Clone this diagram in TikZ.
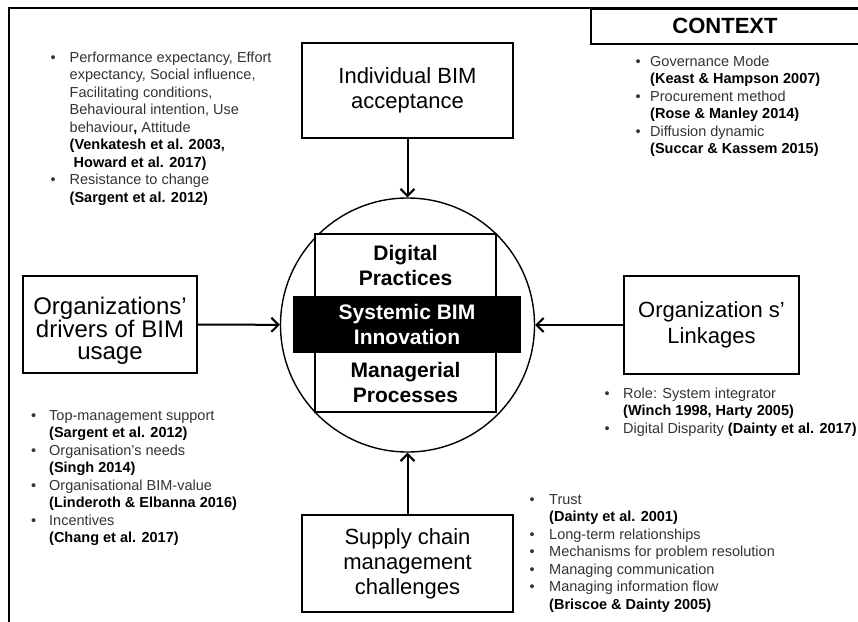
\documentclass[tikz,border=0pt]{standalone}
\usepackage{fontspec}
\setmainfont{Liberation Sans}
\usetikzlibrary{arrows.meta}
\newlength{\bw}
\newcommand{\itm}[1]{\makebox[\bw][l]{•}#1}
\newcommand{\cnt}[1]{\hspace*{\bw}#1}
\newcommand{\rf}[1]{{\bfseries\color{black}#1}}
\tikzset{
  bbox/.style={draw, line width=2pt, inner sep=0pt, align=center, fill=white},
  arr/.style={line width=2pt, -{Straight Barb[length=7pt,width=14pt]}},
  listtxt/.style={anchor=north west, inner sep=0pt, text=black!80,
    font=\fontsize{14.5}{17.5}\selectfont},
}
\begin{document}
\begin{tikzpicture}[x=1pt,y=-1pt]
\useasboundingbox (0,0) rectangle (858,621);
% outer frame
\draw[line width=2pt] (9,630) -- (9,8) -- (870,8);
% context header
\node[draw, line width=2pt, minimum width=280pt, minimum height=35pt, anchor=north west, inner sep=0pt] (ctxbox) at (590,8) {};
\node[font=\fontsize{22}{25}\selectfont\bfseries] (ctx) at (725,26) {CONTEXT};

% central circle
\node[circle, draw, line width=1.4pt, minimum size=254pt, inner sep=0pt] (core) at (407.5,325) {};
\node[draw, fill=white, line width=1.1pt, minimum width=181pt, minimum height=178pt, inner sep=0pt] (inner) at (405.5,323) {};
\node[fill=black, minimum width=228pt, minimum height=57pt, inner sep=0pt, text=white, align=center,
  font=\fontsize{21}{25}\selectfont\bfseries] (band) at (407,324.5) {Systemic BIM\\Innovation};
\node[align=center, font=\fontsize{21}{25}\selectfont\bfseries] (dig) at (405.5,265.5) {Digital\\Practices};
\node[align=center, font=\fontsize{21}{25}\selectfont\bfseries] (mgr) at (405.5,382.5) {Managerial\\Processes};

% surrounding boxes
\node[bbox, minimum width=211pt, minimum height=95pt, font=\fontsize{22}{25}\selectfont] (ind) at (407.5,90.5) {Individual BIM\\acceptance};
\node[bbox, minimum width=174pt, minimum height=97pt] (drv) at (110,324.5) {};
\node[align=center, inner sep=0pt, font=\fontsize{24}{22}\selectfont] (drvt) at (110,331) {Organizations’\\drivers of BIM\\usage};
\node[bbox, minimum width=175pt, minimum height=98pt, font=\fontsize{22}{26}\selectfont] (lnk) at (711.5,325) {Organization s’\\Linkages};
\node[bbox, minimum width=211pt, minimum height=97pt, font=\fontsize{22}{25}\selectfont] (sup) at (407.5,563.5) {Supply chain\\management\\challenges};

% arrows
\draw[arr] (ind) -- (core);
\draw[arr] (drv) -- (core);
\draw[arr] (lnk) -- (core);
\draw[arr] (sup) -- (core);

% lists
\node[listtxt] (lst1) at (50.5,50) {\setlength{\bw}{19pt}\begin{tabular}{@{}l@{}}
\itm{Performance expectancy, Effort}\\
\cnt{expectancy, Social influence,}\\
\cnt{Facilitating conditions,}\\
\cnt{Behavioural intention, Use}\\
\cnt{behaviour\rf{,} Attitude}\\
\cnt{\rf{(Venkatesh et al. 2003,}}\\
\cnt{\rf{\ Howard et al. 2017)}}\\
\itm{Resistance to change}\\
\cnt{\rf{(Sargent et al. 2012)}}
\end{tabular}};

\node[listtxt] (lst2) at (635.5,54) {\setlength{\bw}{14.5pt}\begin{tabular}{@{}l@{}}
\itm{Governance Mode}\\
\cnt{\rf{(Keast \& Hampson 2007)}}\\
\itm{Procurement method}\\
\cnt{\rf{(Rose \& Manley 2014)}}\\
\itm{Diffusion dynamic}\\
\cnt{\rf{(Succar \& Kassem 2015)}}
\end{tabular}};

\node[listtxt] (lst3) at (31,408) {\setlength{\bw}{18pt}\begin{tabular}{@{}l@{}}
\itm{Top-management support}\\
\cnt{\rf{(Sargent et al. 2012)}}\\
\itm{Organisation’s needs}\\
\cnt{\rf{(Singh 2014)}}\\
\itm{Organisational BIM-value}\\
\cnt{\rf{(Linderoth \& Elbanna 2016)}}\\
\itm{Incentives}\\
\cnt{\rf{(Chang et al. 2017)}}
\end{tabular}};

\node[listtxt] (lst4) at (604.5,386) {\setlength{\bw}{18.5pt}\begin{tabular}{@{}l@{}}
\itm{Role: System integrator}\\
\cnt{\rf{(Winch 1998, Harty 2005)}}\\
\itm{Digital Disparity \rf{(Dainty et al. 2017)}}
\end{tabular}};

\node[listtxt] (lst5) at (529.5,492) {\setlength{\bw}{19.5pt}\begin{tabular}{@{}l@{}}
\itm{Trust}\\
\cnt{\rf{(Dainty et al. 2001)}}\\
\itm{Long-term relationships}\\
\itm{Mechanisms for problem resolution}\\
\itm{Managing communication}\\
\itm{Managing information flow}\\
\cnt{\rf{(Briscoe \& Dainty 2005)}}
\end{tabular}};
\end{tikzpicture}
\end{document}
